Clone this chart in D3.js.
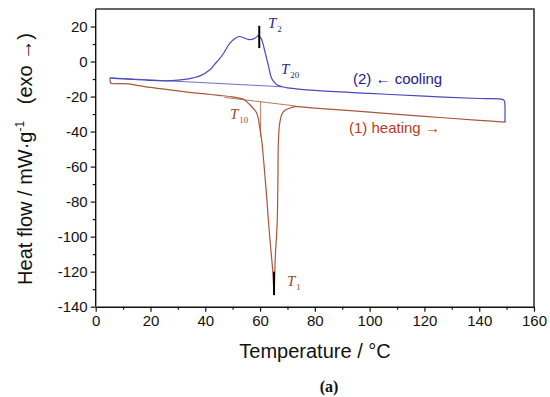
<!DOCTYPE html>
<html>
<head>
<meta charset="utf-8">
<script src="https://cdn.jsdelivr.net/npm/d3@7"></script>
<style>
  body { margin: 0; background: #fff; }
  text { font-family: "Liberation Sans", Arial, sans-serif; }
  text.serif { font-family: "Liberation Serif", "Times New Roman", serif; }
</style>
</head>
<body>
<svg class="chart"></svg>
<script>
// heating run (1), temperature / heat flow
var heatT = [5.2, 5.6, 8, 12, 16, 20, 25, 30, 35, 40, 45, 50, 54, 56.3, 58.8, 60, 60.6, 61.5, 62.3, 63, 63.8, 64.6, 65.1,
             65.3, 65.6, 66.0, 66.3, 66.5, 66.7, 67.2, 68, 69, 70.5, 73, 80, 100, 120, 140, 149.5];
var heatV = [-9.3, -12.4, -12.6, -12.8, -13.8, -14.8, -15.8, -16.8, -17.7, -18.5, -19.3, -20.2, -21.6, -24.7, -29.5, -39, -45, -60, -75, -90, -105, -119, -132,
             -125, -110, -100, -90, -70, -45, -35, -30, -28, -26.8, -25.8, -26.6, -28.9, -31.3, -33.6, -34.6];
// cooling run (2), from 150 back down to 5
var coolT = [149.4, 149.4, 149.2, 148.5, 140, 120, 100, 80, 70, 68, 66.5, 65.5, 64.2, 63, 61.8, 61, 60.3, 59.5, 58, 56, 54, 52.5, 51, 49,
             47, 45.4, 43.5, 41.7, 38.1, 35.5, 33.2, 30, 25.9, 20, 17.4, 10, 5.3];
var coolV = [-34.6, -26, -22.5, -21.6, -21.1, -19.8, -18.2, -16.5, -15.0, -14.4, -13.6, -12.3, -9.5, -2, 5.5, 10.5, 13.5, 14.8, 13.2, 12.5, 13.6, 14.3, 13.3, 10.5,
             5.5, 1.9, -1.5, -4.7, -8.2, -9.3, -10, -10.6, -11, -10.8, -10.5, -9.9, -9.3];
// baseline constructions
var heatBaseT = [47, 73];
var heatBaseV = [-20.5, -25.4];
var coolBaseT = [5.3, 68];
var coolBaseV = [-9.3, -14.4];
// characteristic temperatures
var T1 = 65.1, T10 = 60.2, T2 = 59.7;

var xTicks = [0, 20, 40, 60, 80, 100, 120, 140, 160];
var yTicks = [20, 0, -20, -40, -60, -80, -100, -120, -140];

var W = 550, H = 397;
var svg = d3.select(".chart").attr("width", W).attr("height", H);

var x = d3.scaleLinear().domain([0, 160]).range([95.7, 534]);
var y = d3.scaleLinear().domain([-140, 30]).range([306.7, 9]);

var heatCol = "#a8583a", coolCol = "#4a4ab8";

// frame (top / right)
svg.append("path")
   .attr("d", "M" + x(0) + "," + y(30) + "H" + x(160) + "V" + y(-140))
   .attr("fill", "none").attr("stroke", "#333").attr("stroke-width", 1.6);

// axes
var gx = svg.append("g").attr("transform", "translate(0," + y(-140) + ")")
   .call(d3.axisBottom(x).tickValues(xTicks).tickFormat(d => String(d)).tickSize(5).tickPadding(4).tickSizeOuter(0));
gx.append("g").call(d3.axisBottom(x).tickValues(d3.range(10, 160, 20)).tickSize(3).tickFormat(""))
   .select(".domain").remove();

var gy = svg.append("g").attr("transform", "translate(" + x(0) + ",0)")
   .call(d3.axisLeft(y).tickValues(yTicks).tickFormat(d => String(d)).tickSize(5).tickPadding(3).tickSizeOuter(0));
gy.append("g").call(d3.axisLeft(y).tickValues(d3.range(-130, 30, 20)).tickSize(3).tickFormat(""))
   .select(".domain").remove();

svg.selectAll(".tick text").attr("font-size", 15).attr("fill", "#111");
svg.selectAll(".domain").attr("stroke", "#111").attr("stroke-width", 1.4);
svg.selectAll(".tick line").attr("stroke", "#111").attr("stroke-width", 1.2);

// extend axis line to frame
gy.select(".domain").attr("d", "M0," + y(30) + "V" + y(-140));

var line = d3.line().x(d => x(d[0])).y(d => y(d[1])).curve(d3.curveCatmullRom.alpha(0.5));
var lin = d3.line().x(d => x(d[0])).y(d => y(d[1]));

// baselines
svg.append("path").datum(d3.zip(heatBaseT, heatBaseV)).attr("d", lin)
   .attr("fill", "none").attr("stroke", heatCol).attr("stroke-width", 0.8);
svg.append("path").datum(d3.zip(coolBaseT, coolBaseV)).attr("d", lin)
   .attr("fill", "none").attr("stroke", coolCol).attr("stroke-width", 0.8);
// T10 drop line
svg.append("line").attr("x1", x(T10)).attr("x2", x(T10))
   .attr("y1", y(-23)).attr("y2", y(-43))
   .attr("stroke", heatCol).attr("stroke-width", 0.8);

// curves
svg.append("path").datum(d3.zip(heatT, heatV)).attr("d", line)
   .attr("fill", "none").attr("stroke", heatCol).attr("stroke-width", 1.2);
svg.append("path").datum(d3.zip(coolT, coolV)).attr("d", line)
   .attr("fill", "none").attr("stroke", coolCol).attr("stroke-width", 1.2);

// peak markers
svg.append("line").attr("x1", x(T2)).attr("x2", x(T2)).attr("y1", y(20.4)).attr("y2", y(7.7))
   .attr("stroke", "#000").attr("stroke-width", 2);
svg.append("line").attr("x1", x(T1)).attr("x2", x(T1)).attr("y1", y(-120)).attr("y2", y(-133.4))
   .attr("stroke", "#000").attr("stroke-width", 2);

// T labels
function tLabel(px, py, sub, col) {
  var t = svg.append("text").attr("class", "serif").attr("x", px).attr("y", py)
     .attr("font-size", 15).attr("font-style", "italic").attr("fill", col);
  t.append("tspan").text("T");
  t.append("tspan").attr("font-style", "normal").attr("font-size", 9).attr("dx", 1).attr("dy", 4).text(sub);
}
tLabel(268, 28, "2", "#2a2a8a");
tLabel(281, 73.5, "20", "#2a2a8a");
tLabel(230, 118.5, "10", "#9a4a2a");
tLabel(287, 286, "1", "#9a4a2a");

svg.append("text").attr("x", 353).attr("y", 84).attr("font-size", 15).attr("fill", "#22228a")
   .text("(2) \u2190 cooling");
svg.append("text").attr("x", 349).attr("y", 133).attr("font-size", 15).attr("fill", "#b83a26")
   .text("(1) heating \u2192");

// axis titles
svg.append("text").attr("x", 315).attr("y", 358).attr("text-anchor", "middle")
   .attr("font-size", 20).attr("fill", "#111").text("Temperature / \u00b0C");

var yt = svg.append("text").attr("transform", "translate(32,159) rotate(-90)")
   .attr("text-anchor", "middle").attr("font-size", 20).attr("fill", "#111");
yt.append("tspan").text("Heat flow / mW\u00b7g");
yt.append("tspan").attr("font-size", 12).attr("dy", -8).text("-1");
yt.append("tspan").attr("dy", 8).text("\u00a0\u00a0\u00a0(exo \u2192)");

svg.append("text").attr("class", "serif").attr("x", 329).attr("y", 392).attr("text-anchor", "middle")
   .attr("font-size", 16).attr("font-weight", "bold").attr("fill", "#111").text("(a)");
</script>
</body>
</html>
